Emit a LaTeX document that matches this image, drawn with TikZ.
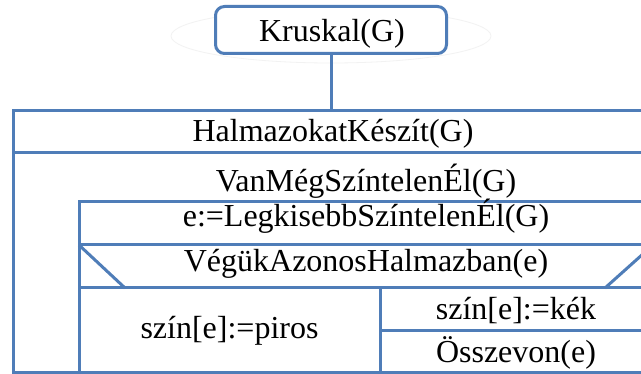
\documentclass[tikz,border=0pt]{standalone}
\usepackage{fontspec}
\setmainfont{Liberation Serif}
\begin{document}
\begin{tikzpicture}[x=1pt,y=-1pt,
    nsline/.style={draw=nsblue, line width=3pt},
    lbl/.style={anchor=base, inner sep=0pt, font=\fontsize{32}{36}\selectfont},
    startbox/.style={draw=nsblue, line width=3pt, rounded corners=9pt,
      minimum width=231pt, minimum height=47pt, inner sep=0pt,
      font=\fontsize{32}{36}\selectfont}]
\definecolor{nsblue}{HTML}{4F7DB8}
\useasboundingbox (0,0) rectangle (641,374);
\clip (0,0) rectangle (641,374);
\fill[white] (0,0) rectangle (641,374);

% faint halo behind the start block
\draw[black!5, line width=0.8pt] (331,36) ellipse [x radius=160pt, y radius=27pt];

% start block and its link to the structogram
\node[startbox, fill=white] (kruskal) at (331,30) {};
\node[lbl] (kruskaltxt) at (332,42) {Kruskal(G)};
\coordinate (outertop) at (kruskal.south |- 0,111);
\draw[nsline] (kruskal.south) -- (outertop);

% outer frame: init statement and loop
\draw[nsline] (13,111) rectangle (653,373);
\draw[nsline] (13,153) -- (653,153);
% loop body
\draw[nsline] (79,202) rectangle (653,373);
\draw[nsline] (79,245) -- (653,245);
\draw[nsline] (79,288) -- (653,288);
% branch header diagonals
\draw[nsline] (79,245) -- (125,288);
\draw[nsline] (653,245) -- (605,288);
% branches
\draw[nsline] (380,288) -- (380,373);
\draw[nsline] (380,331) -- (653,331);

% texts
\node[lbl] (init) at (333,142) {HalmazokatKészít(G)};
\node[lbl] (loop) at (366,192) {VanMégSzíntelenÉl(G)};
\node[lbl] (pick) at (366,227) {e:=LegkisebbSzíntelenÉl(G)};
\node[lbl] (cond) at (366,272) {VégükAzonosHalmazban(e)};
\node[lbl] (red) at (229.5,339) {szín[e]:=piros};
\node[lbl] (blue) at (516,320) {szín[e]:=kék};
\node[lbl] (merge) at (516,363) {Összevon(e)};
\end{tikzpicture}
\end{document}
